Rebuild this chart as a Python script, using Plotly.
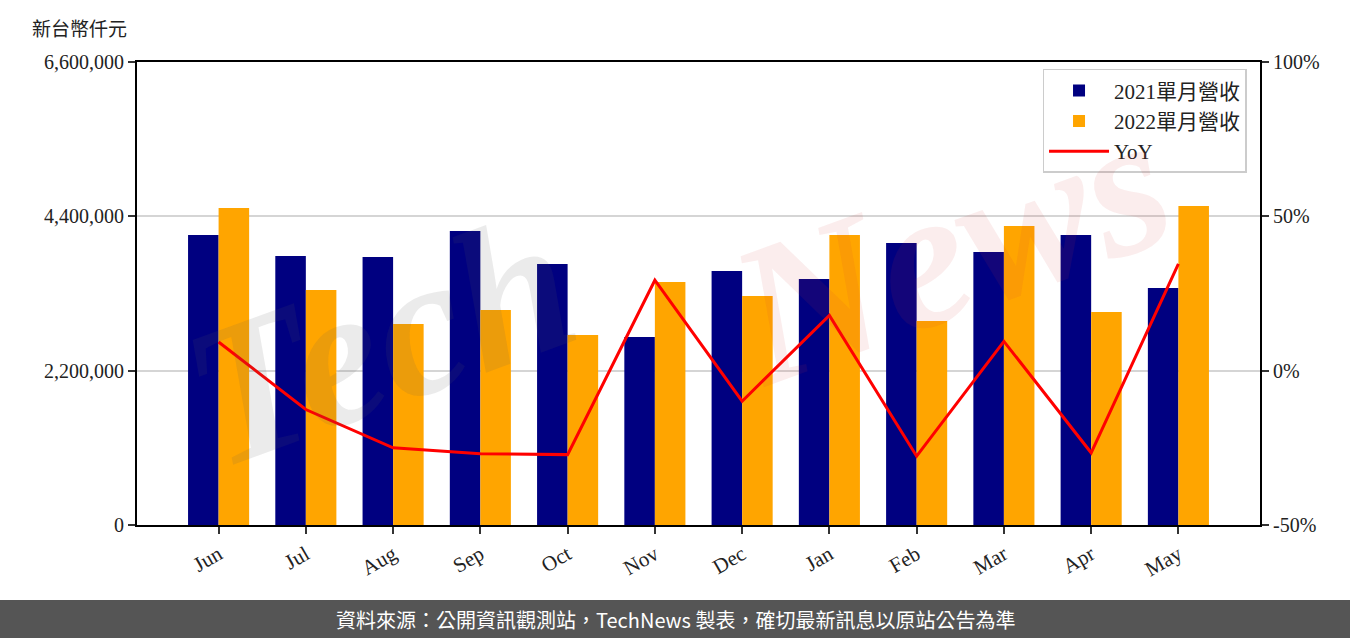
import plotly.graph_objects as go

months = ["Jun", "Jul", "Aug", "Sep", "Oct", "Nov", "Dec", "Jan", "Feb", "Mar", "Apr", "May"]
rev_2021 = [4134000, 3835000, 3820000, 4191000, 3721000, 2680000, 3621000, 3507000, 4020000, 3892000, 4134000, 3378000]
rev_2022 = [4519000, 3350000, 2865000, 3065000, 2708000, 3464000, 3264000, 4134000, 2908000, 4262000, 3036000, 4547000]
yoy_pct = [9.3, -12.6, -25.0, -26.9, -27.2, 29.3, -9.9, 17.9, -27.7, 9.5, -26.6, 34.6]

left_ticks = [0, 2200000, 4400000, 6600000]
left_ticktext = ["0", "2,200,000", "4,400,000", "6,600,000"]
right_ticks = [-50, 0, 50, 100]
right_ticktext = ["-50%", "0%", "50%", "100%"]

FONT = "Liberation Serif, Noto Sans CJK TC, serif"
x_idx = list(range(len(months)))

fig = go.Figure()
fig.add_trace(go.Bar(x=x_idx, y=rev_2021, name="2021單月營收", marker_color="#000080",
                     marker_line_width=0, offsetgroup="a"))
fig.add_trace(go.Bar(x=x_idx, y=rev_2022, name="2022單月營收", marker_color="#FFA500",
                     marker_line_width=0, offsetgroup="b"))
fig.add_trace(go.Scatter(x=x_idx, y=yoy_pct, name="YoY", mode="lines",
                         line=dict(color="#FF0000", width=3), yaxis="y2"))

fig.update_layout(
    width=1350, height=638,
    margin=dict(l=137, r=90, t=62, b=113),
    paper_bgcolor="white", plot_bgcolor="white",
    barmode="group", bargap=0.3, bargroupgap=0,
    font=dict(family=FONT, size=18, color="#222"),
    showlegend=True,
    legend=dict(x=0.988, y=0.985, xanchor="right", yanchor="top",
                bgcolor="rgba(255,255,255,0.85)", bordercolor="#cccccc", borderwidth=1.5,
                font=dict(family=FONT, size=21, color="#222"), tracegroupgap=6,
                itemwidth=60),
    xaxis=dict(range=[-0.935, 11.935], tickmode="array", tickvals=x_idx, ticktext=months,
               tickangle=-30, showline=True, mirror=True, linecolor="black", linewidth=2,
               ticks="outside", ticklen=7, tickwidth=1.5, tickcolor="#333",
               showgrid=False, zeroline=False, tickfont=dict(family=FONT, size=21)),
    yaxis=dict(range=[0, 6600000], tickmode="array", tickvals=left_ticks, ticktext=left_ticktext,
               showline=True, mirror=True, linecolor="black", linewidth=2,
               ticks="outside", ticklen=7, tickwidth=1.5, tickcolor="#333",
               showgrid=True, gridcolor="#d5d5d5", gridwidth=1.5, zeroline=False,
               tickfont=dict(family=FONT, size=20)),
    yaxis2=dict(range=[-50, 100], tickmode="array", tickvals=right_ticks, ticktext=right_ticktext,
                overlaying="y", side="right", showline=True, linecolor="black", linewidth=2,
                ticks="outside", ticklen=7, tickwidth=1.5, tickcolor="#333",
                showgrid=False, zeroline=False, tickfont=dict(family=FONT, size=20)),
)

# watermark
fig.add_annotation(text="<b><i>Tech</i></b>", xref="paper", yref="paper", x=0.216, y=0.40,
                   xanchor="center", yanchor="middle",
                   showarrow=False, textangle=-20,
                   font=dict(family="Liberation Serif", size=200, color="rgba(90,90,90,0.12)"))
fig.add_annotation(text="<b><i>News</i></b>", xref="paper", yref="paper", x=0.724, y=0.60,
                   xanchor="center", yanchor="middle",
                   showarrow=False, textangle=-20,
                   font=dict(family="Liberation Serif", size=200, color="rgba(210,60,60,0.09)"))

# axis unit label
fig.add_annotation(text="新台幣仟元", xref="paper", yref="paper", x=-0.095, y=(525 - 27) / 463,
                   xanchor="left", yanchor="middle", showarrow=False,
                   font=dict(family="Noto Sans CJK TC", size=19, color="#222"))

# footer band
fig.add_shape(type="rect", xref="paper", yref="paper", x0=-0.125, x1=1.085, y0=-0.25, y1=-0.162,
              fillcolor="#555555", line_width=0, layer="above")
fig.add_annotation(text="資料來源：公開資訊觀測站，TechNews 製表，確切最新訊息以原站公告為準",
                   xref="paper", yref="paper", x=(675 - 137) / 1123, y=(525 - 619) / 463,
                   xanchor="center", yanchor="middle", showarrow=False,
                   font=dict(family="Noto Sans CJK TC", size=20, color="white"))

fig.write_html("out.html", config={"displayModeBar": False},
               post_script="document.body.style.margin='0';document.body.style.overflow='hidden';")
